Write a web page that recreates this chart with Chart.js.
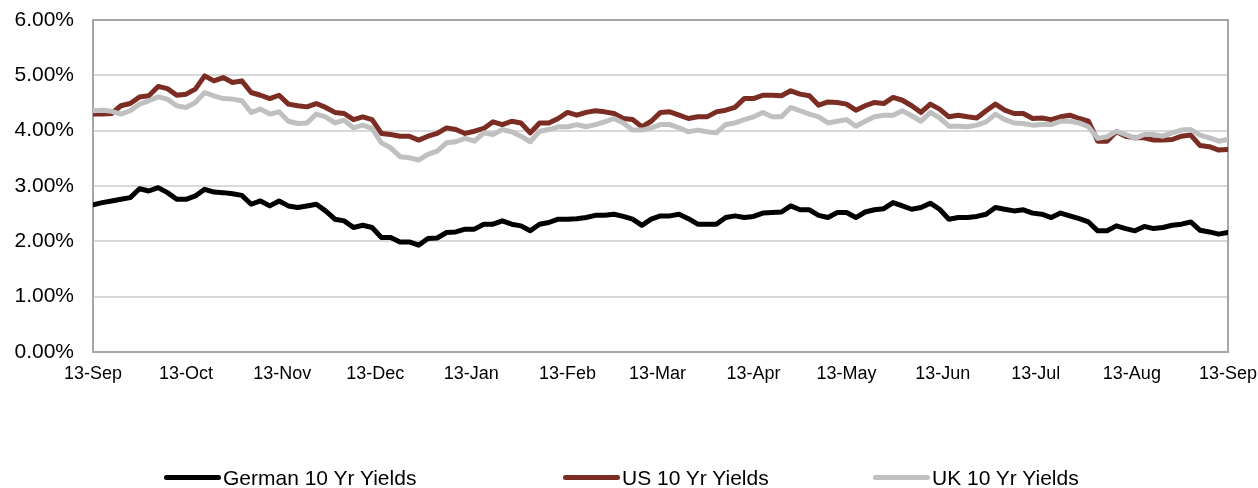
<!DOCTYPE html>
<html>
<head>
<meta charset="utf-8">
<title>10 Yr Yields</title>
<script src="https://cdn.jsdelivr.net/npm/chart.js@4.4.1/dist/chart.umd.min.js"></script>
<style>
  html, body { margin: 0; padding: 0; background: #fff; }
  #wrap { position: relative; width: 1258px; height: 488px; overflow: hidden; }
  #grafico { position: absolute; left: 0; top: 0; }
  .leg { position: absolute; top: 467px; font: 21px "Liberation Sans", Arial, sans-serif; line-height: 21px; color: #000; white-space: nowrap; padding-left: 59px; }
  .leg i { position: absolute; left: 0; top: 8px; width: 57px; height: 5px; border-radius: 3px; }
</style>
</head>
<body>
<div id="wrap">
  <canvas id="grafico" width="1258" height="488"></canvas>
</div>
<script>
// serie amostrada a cada 3 dias corridos a partir de 13-Sep-2023
var INICIO = Date.UTC(2023, 8, 13);
var PASSO_DIAS = 3;

var rotulosX = ['13-Sep', '13-Oct', '13-Nov', '13-Dec', '13-Jan', '13-Feb', '13-Mar',
  '13-Apr', '13-May', '13-Jun', '13-Jul', '13-Aug', '13-Sep'];

var nomesSeries = ['German 10 Yr Yields', 'US 10 Yr Yields', 'UK 10 Yr Yields'];

var german = [
  2.66, 2.70, 2.73, 2.76, 2.79, 2.95, 2.91, 2.97, 2.88, 2.76, 2.76, 2.82, 2.94, 2.89, 2.88, 2.86, 2.83, 2.67, 2.73, 2.64, 2.73,
  2.64, 2.61, 2.64, 2.67, 2.55, 2.40, 2.37, 2.25, 2.29, 2.25, 2.07, 2.07, 1.99, 1.99, 1.93, 2.05, 2.06, 2.16, 2.17, 2.22,
  2.22, 2.31, 2.31, 2.37, 2.31, 2.28, 2.19, 2.31, 2.34, 2.40, 2.40, 2.41, 2.43, 2.47, 2.47, 2.49, 2.45, 2.40, 2.29, 2.40,
  2.46, 2.46, 2.49, 2.41, 2.31, 2.31, 2.31, 2.43, 2.46, 2.43, 2.45, 2.51, 2.52, 2.53, 2.64, 2.57, 2.57, 2.47, 2.43, 2.52, 2.52,
  2.43, 2.53, 2.57, 2.59, 2.70, 2.64, 2.58, 2.61, 2.69, 2.58, 2.40, 2.43, 2.43, 2.45, 2.49, 2.61, 2.58, 2.55, 2.57, 2.51,
  2.49, 2.43, 2.51, 2.46, 2.41, 2.35, 2.19, 2.19, 2.28, 2.23, 2.19, 2.27, 2.23, 2.25, 2.29, 2.31, 2.35, 2.20, 2.17, 2.13, 2.16
];

var us = [
  4.30, 4.30, 4.31, 4.45, 4.49, 4.61, 4.63, 4.80, 4.76, 4.64, 4.66, 4.75, 4.99, 4.90, 4.96, 4.87, 4.90, 4.69, 4.64, 4.58, 4.64,
  4.48, 4.45, 4.43, 4.49, 4.42, 4.33, 4.31, 4.20, 4.25, 4.20, 3.95, 3.93, 3.90, 3.90, 3.83, 3.90, 3.95, 4.05, 4.02, 3.95,
  3.99, 4.04, 4.16, 4.11, 4.17, 4.14, 3.96, 4.14, 4.14, 4.22, 4.33, 4.28, 4.33, 4.36, 4.34, 4.31, 4.22, 4.20, 4.07, 4.17,
  4.33, 4.34, 4.28, 4.22, 4.25, 4.25, 4.34, 4.37, 4.42, 4.58, 4.58, 4.64, 4.64, 4.63, 4.72, 4.66, 4.63, 4.46, 4.52, 4.51, 4.48,
  4.37, 4.45, 4.51, 4.49, 4.60, 4.55, 4.45, 4.33, 4.48, 4.39, 4.25, 4.28, 4.25, 4.23, 4.36, 4.48, 4.37, 4.31, 4.31, 4.22,
  4.23, 4.20, 4.25, 4.28, 4.22, 4.17, 3.81, 3.81, 3.98, 3.90, 3.87, 3.87, 3.83, 3.83, 3.84, 3.90, 3.92, 3.73, 3.71, 3.65, 3.66
];

var uk = [
  4.36, 4.37, 4.35, 4.30, 4.36, 4.48, 4.54, 4.61, 4.57, 4.45, 4.42, 4.51, 4.69, 4.63, 4.58, 4.57, 4.54, 4.33, 4.39, 4.30, 4.34,
  4.17, 4.13, 4.14, 4.30, 4.25, 4.14, 4.19, 4.05, 4.10, 4.04, 3.78, 3.69, 3.53, 3.51, 3.47, 3.57, 3.63, 3.78, 3.80, 3.86,
  3.81, 3.96, 3.93, 4.02, 3.98, 3.90, 3.80, 3.99, 4.02, 4.07, 4.07, 4.11, 4.07, 4.11, 4.16, 4.22, 4.14, 4.01, 4.01, 4.05,
  4.11, 4.11, 4.05, 3.98, 4.01, 3.98, 3.96, 4.11, 4.14, 4.20, 4.25, 4.33, 4.25, 4.25, 4.42, 4.36, 4.30, 4.25, 4.14, 4.17, 4.20,
  4.08, 4.17, 4.25, 4.28, 4.28, 4.36, 4.27, 4.17, 4.33, 4.23, 4.08, 4.08, 4.07, 4.10, 4.16, 4.30, 4.20, 4.14, 4.13, 4.10,
  4.11, 4.11, 4.17, 4.17, 4.14, 4.07, 3.86, 3.89, 3.99, 3.93, 3.86, 3.93, 3.93, 3.90, 3.96, 4.01, 4.02, 3.92, 3.87, 3.81, 3.84
];

var cores = ['#000000', '#7b2c23', '#c0c0c0'];

(function () {
  var DIA = 86400000;
  var FONTE = '"Liberation Sans", Arial, sans-serif';

  // dia 13 de cada mes, contado em dias desde o inicio
  var diasTicks = rotulosX.map(function (r, i) {
    return Math.round((Date.UTC(2023, 8 + i, 13) - INICIO) / DIA);
  });

  function pontos(valores) {
    return valores.map(function (v, i) { return { x: i * PASSO_DIAS, y: v }; });
  }

  function serie(i, valores, ordem) {
    return {
      label: nomesSeries[i],
      data: pontos(valores),
      borderColor: cores[i],
      backgroundColor: cores[i],
      borderWidth: 5,
      borderJoinStyle: 'round',
      borderCapStyle: 'round',
      pointRadius: 0,
      tension: 0,
      order: ordem
    };
  }

  // moldura cinza em volta da area do grafico
  var moldura = {
    id: 'moldura',
    beforeDatasetsDraw: function (chart) {
      var a = chart.chartArea, ctx = chart.ctx;
      ctx.save();
      ctx.strokeStyle = '#a6a6a6';
      ctx.lineWidth = 2;
      ctx.strokeRect(a.left, a.top, a.right - a.left, a.bottom - a.top);
      ctx.restore();
    }
  };

  new Chart(document.getElementById('grafico'), {
    type: 'line',
    data: {
      datasets: [
        serie(0, german, 3),
        serie(1, us, 2),
        serie(2, uk, 1)
      ]
    },
    plugins: [moldura],
    options: {
      responsive: false,
      animation: false,
      layout: { padding: { left: 0, right: 30, top: 20, bottom: 0 } },
      plugins: { legend: { display: false }, tooltip: { enabled: false } },
      scales: {
        x: {
          type: 'linear',
          min: 0,
          max: diasTicks[diasTicks.length - 1],
          afterBuildTicks: function (s) {
            s.ticks = diasTicks.map(function (d) { return { value: d }; });
          },
          afterFit: function (s) {
            s.height = 136;
            s.paddingLeft = 0;
            s.paddingRight = 0;
          },
          grid: { display: false, drawTicks: false },
          border: { display: false },
          ticks: {
            autoSkip: false,
            maxRotation: 0,
            padding: 11,
            color: '#000',
            font: { family: FONTE, size: 18 },
            callback: function (v, i) { return rotulosX[i]; }
          }
        },
        y: {
          min: 0,
          max: 6,
          afterFit: function (s) {
            s.width = 93;
            s.paddingTop = 0;
            s.paddingBottom = 0;
          },
          grid: { color: '#d9d9d9', lineWidth: 2, drawTicks: false },
          border: { display: false },
          ticks: {
            stepSize: 1,
            padding: 19,
            color: '#000',
            font: { family: FONTE, size: 21 },
            callback: function (v) { return v.toFixed(2) + '%'; }
          }
        }
      }
    }
  });

  // legenda em linha embaixo do grafico
  var posLegenda = [164, 563, 873];
  var wrap = document.getElementById('wrap');
  nomesSeries.forEach(function (nome, i) {
    var div = document.createElement('div');
    div.className = 'leg';
    div.style.left = posLegenda[i] + 'px';
    div.innerHTML = '<i style="background:' + cores[i] + '"></i>' + nome;
    wrap.appendChild(div);
  });
})();
</script>
</body>
</html>
